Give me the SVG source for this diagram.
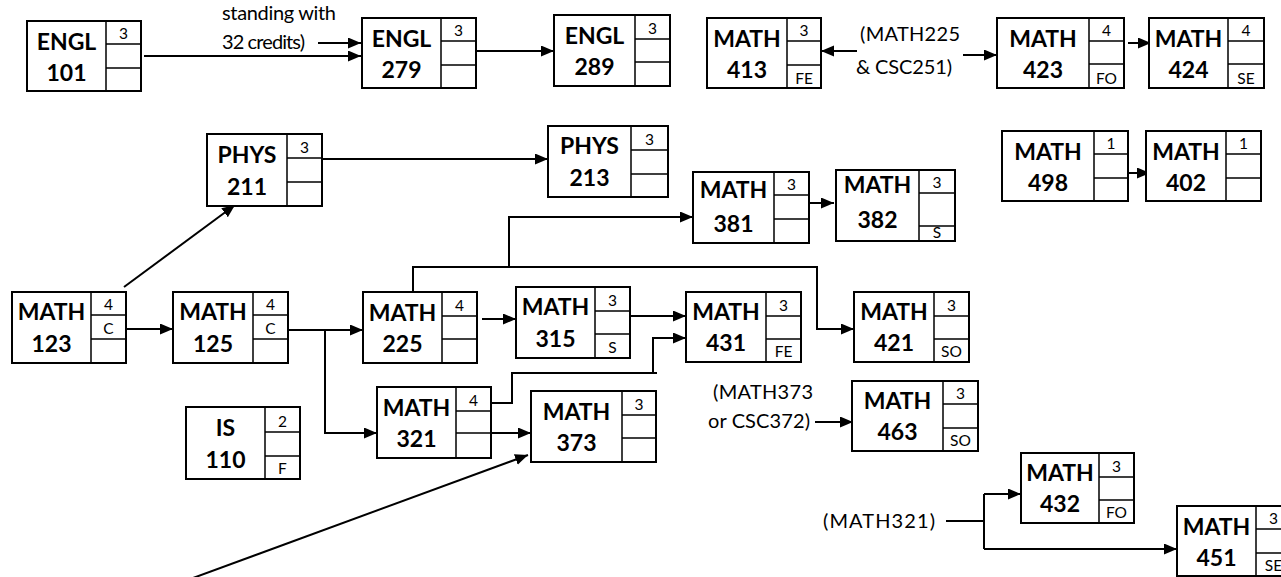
<svg xmlns="http://www.w3.org/2000/svg" width="1281" height="577" viewBox="0 0 1281 577">
<defs>
<marker id="ah" markerUnits="userSpaceOnUse" markerWidth="14" markerHeight="12" refX="13" refY="5.5" orient="auto">
<path d="M0,0 L13,5.5 L0,11 Z" fill="#000"/>
</marker>
<style>
.box{fill:#fff;stroke:#000;stroke-width:2}
.cell{stroke:#000;stroke-width:1.5;fill:none}
.lbl{font-family:Lato,"Liberation Sans",sans-serif;font-weight:bold;font-size:23px;text-anchor:middle;fill:#000}
.sm{font-family:Lato,"Liberation Sans",sans-serif;font-size:15.5px;text-anchor:middle;fill:#000}
.ann{font-family:Lato,"Liberation Sans",sans-serif;font-size:20px;fill:#000}
.con{fill:none;stroke:#000;stroke-width:2}
</style>
</defs>
<rect width="1281" height="577" fill="#fff"/>

<g id="connectors">
<path class="con" d="M144,56 H361" marker-end="url(#ah)"/>
<path class="con" d="M318,43 H361" marker-end="url(#ah)"/>
<path class="con" d="M476,51 H554" marker-end="url(#ah)"/>
<path class="con" d="M857,51 H821" marker-end="url(#ah)"/>
<path class="con" d="M963,55 H997" marker-end="url(#ah)"/>
<path class="con" d="M1128,43 H1151" marker-end="url(#ah)"/>
<path class="con" d="M1128,173 H1150" marker-end="url(#ah)"/>
<path class="con" d="M124,287 L235,205" marker-end="url(#ah)"/>
<path class="con" d="M319,159 H548" marker-end="url(#ah)"/>
<path class="con" d="M123,329 H173" marker-end="url(#ah)"/>
<path class="con" d="M288,330 H363" marker-end="url(#ah)"/>
<path class="con" d="M325,330 V433 H377" marker-end="url(#ah)"/>
<path class="con" d="M413,292 V267 H817 V329 H854" marker-end="url(#ah)"/>
<path class="con" d="M509,267 V217 H693" marker-end="url(#ah)"/>
<path class="con" d="M482,319 H516" marker-end="url(#ah)"/>
<path class="con" d="M630,316 H686" marker-end="url(#ah)"/>
<path class="con" d="M488,403 H512 V373 H657"/>
<path class="con" d="M653,373 V338 H686" marker-end="url(#ah)"/>
<path class="con" d="M491,433 H531" marker-end="url(#ah)"/>
<path class="con" d="M193,578 L528,455" marker-end="url(#ah)"/>
<path class="con" d="M803,203 H834" marker-end="url(#ah)"/>
<path class="con" d="M815,422 H853" marker-end="url(#ah)"/>
<path class="con" d="M946,521 H984"/>
<path class="con" d="M984,494 V549"/>
<path class="con" d="M984,494 H1021" marker-end="url(#ah)"/>
<path class="con" d="M984,549 H1177" marker-end="url(#ah)"/>
</g>

<g id="annotations">
<text class="ann" x="222" y="20" textLength="114" lengthAdjust="spacing">standing with</text>
<text class="ann" x="222" y="49" textLength="83" lengthAdjust="spacing">32 credits)</text>
<text class="ann" x="860" y="41" textLength="100" lengthAdjust="spacing">(MATH225</text>
<text class="ann" x="856" y="74" textLength="96" lengthAdjust="spacing">&amp; CSC251)</text>
<text class="ann" x="713" y="399" textLength="100" lengthAdjust="spacing">(MATH373</text>
<text class="ann" x="708" y="428" textLength="102" lengthAdjust="spacing">or CSC372)</text>
<text class="ann" x="823" y="528" textLength="112" lengthAdjust="spacing">(MATH321)</text>
</g>

<g id="engl101">
<rect class="box" x="27" y="21" width="114" height="70"/>
<path class="cell" d="M106,21 V91 M106,44 H141 M106,68 H141"/>
<text class="lbl" x="66.5" y="50">ENGL</text><text class="lbl" x="66.5" y="81">101</text>
<text class="sm" x="123.5" y="39">3</text>
</g>
<g id="engl279">
<rect class="box" x="362" y="18" width="114" height="70"/>
<path class="cell" d="M441,18 V88 M441,41 H476 M441,65 H476"/>
<text class="lbl" x="401.5" y="47">ENGL</text><text class="lbl" x="401.5" y="78">279</text>
<text class="sm" x="458.5" y="36">3</text>
</g>
<g id="engl289">
<rect class="box" x="554" y="15" width="116" height="71"/>
<path class="cell" d="M635,15 V86 M635,39 H670 M635,62 H670"/>
<text class="lbl" x="594.5" y="44">ENGL</text><text class="lbl" x="594.5" y="75">289</text>
<text class="sm" x="652.5" y="34">3</text>
</g>
<g id="math413">
<rect class="box" x="707" y="18" width="114" height="70"/>
<path class="cell" d="M787,18 V88 M787,41 H821 M787,65 H821"/>
<text class="lbl" x="747" y="47">MATH</text><text class="lbl" x="747" y="78">413</text>
<text class="sm" x="804" y="36">3</text><text class="sm" x="804" y="84">FE</text>
</g>
<g id="math423">
<rect class="box" x="997" y="18" width="127" height="70"/>
<path class="cell" d="M1089,18 V88 M1089,41 H1124 M1089,64 H1124"/>
<text class="lbl" x="1043" y="47">MATH</text><text class="lbl" x="1043" y="78">423</text>
<text class="sm" x="1106.5" y="36">4</text><text class="sm" x="1106.5" y="84">FO</text>
</g>
<g id="math424">
<rect class="box" x="1149" y="18" width="115" height="70"/>
<path class="cell" d="M1228,18 V88 M1228,41 H1264 M1228,64 H1264"/>
<text class="lbl" x="1188.5" y="47">MATH</text><text class="lbl" x="1188.5" y="78">424</text>
<text class="sm" x="1246" y="36">4</text><text class="sm" x="1246" y="84">SE</text>
</g>
<g id="math498">
<rect class="box" x="1002" y="131" width="126" height="70"/>
<path class="cell" d="M1094,131 V201 M1094,154 H1128 M1094,178 H1128"/>
<text class="lbl" x="1048" y="160">MATH</text><text class="lbl" x="1048" y="191">498</text>
<text class="sm" x="1111" y="149">1</text>
</g>
<g id="math402">
<rect class="box" x="1146" y="131" width="115" height="70"/>
<path class="cell" d="M1226,131 V201 M1226,154 H1261 M1226,178 H1261"/>
<text class="lbl" x="1186" y="160">MATH</text><text class="lbl" x="1186" y="191">402</text>
<text class="sm" x="1243.5" y="149">1</text>
</g>
<g id="phys211">
<rect class="box" x="207" y="134" width="115" height="72"/>
<path class="cell" d="M287,134 V206 M287,158 H322 M287,182 H322"/>
<text class="lbl" x="247" y="163">PHYS</text><text class="lbl" x="247" y="195">211</text>
<text class="sm" x="304.5" y="153">3</text>
</g>
<g id="phys213">
<rect class="box" x="548" y="126" width="120" height="71"/>
<path class="cell" d="M631,126 V197 M631,150 H668 M631,174 H668"/>
<text class="lbl" x="589.5" y="154">PHYS</text><text class="lbl" x="589.5" y="186">213</text>
<text class="sm" x="649.5" y="145">3</text>
</g>
<g id="math381">
<rect class="box" x="693" y="172" width="116" height="71"/>
<path class="cell" d="M774,172 V243 M774,195 H809 M774,219 H809"/>
<text class="lbl" x="733.5" y="198">MATH</text><text class="lbl" x="733.5" y="232">381</text>
<text class="sm" x="791.5" y="190">3</text>
</g>
<g id="math382">
<rect class="box" x="836" y="170" width="119" height="71"/>
<path class="cell" d="M919,170 V241 M919,193 H955 M919,226 H955"/>
<text class="lbl" x="877.5" y="193">MATH</text><text class="lbl" x="877.5" y="228">382</text>
<text class="sm" x="937" y="188">3</text><text class="sm" x="937" y="238">S</text>
</g>
<g id="math123">
<rect class="box" x="12" y="292" width="114" height="71"/>
<path class="cell" d="M91,292 V363 M91,315 H126 M91,339 H126"/>
<text class="lbl" x="51.5" y="320">MATH</text><text class="lbl" x="51.5" y="352">123</text>
<text class="sm" x="108.5" y="310">4</text><text class="sm" x="108.5" y="334">C</text>
</g>
<g id="math125">
<rect class="box" x="173" y="292" width="115" height="71"/>
<path class="cell" d="M253,292 V363 M253,315 H288 M253,339 H288"/>
<text class="lbl" x="213" y="320">MATH</text><text class="lbl" x="213" y="352">125</text>
<text class="sm" x="270.5" y="310">4</text><text class="sm" x="270.5" y="334">C</text>
</g>
<g id="math225">
<rect class="box" x="363" y="292" width="114" height="71"/>
<path class="cell" d="M442,292 V363 M442,316 H477 M442,339 H477"/>
<text class="lbl" x="402.5" y="321">MATH</text><text class="lbl" x="402.5" y="352">225</text>
<text class="sm" x="459.5" y="311">4</text>
</g>
<g id="math315">
<rect class="box" x="516" y="287" width="114" height="71"/>
<path class="cell" d="M595,287 V358 M595,311 H630 M595,334 H630"/>
<text class="lbl" x="555.5" y="315">MATH</text><text class="lbl" x="555.5" y="347">315</text>
<text class="sm" x="612.5" y="306">3</text><text class="sm" x="612.5" y="353">S</text>
</g>
<g id="math431">
<rect class="box" x="686" y="292" width="115" height="70"/>
<path class="cell" d="M766,292 V362 M766,316 H801 M766,339 H801"/>
<text class="lbl" x="726" y="320">MATH</text><text class="lbl" x="726" y="351">431</text>
<text class="sm" x="783.5" y="311">3</text><text class="sm" x="783.5" y="357">FE</text>
</g>
<g id="math421">
<rect class="box" x="854" y="292" width="115" height="70"/>
<path class="cell" d="M934,292 V362 M934,316 H969 M934,339 H969"/>
<text class="lbl" x="894" y="320">MATH</text><text class="lbl" x="894" y="351">421</text>
<text class="sm" x="951.5" y="311">3</text><text class="sm" x="951.5" y="357">SO</text>
</g>
<g id="is110">
<rect class="box" x="186" y="407" width="114" height="72"/>
<path class="cell" d="M265,407 V479 M265,432 H300 M265,456 H300"/>
<text class="lbl" x="225.5" y="436">IS</text><text class="lbl" x="225.5" y="468">110</text>
<text class="sm" x="282.5" y="427">2</text><text class="sm" x="282.5" y="474">F</text>
</g>
<g id="math321">
<rect class="box" x="377" y="387" width="114" height="71"/>
<path class="cell" d="M456,387 V458 M456,411 H491 M456,433 H491"/>
<text class="lbl" x="416.5" y="416">MATH</text><text class="lbl" x="416.5" y="447">321</text>
<text class="sm" x="473.5" y="406">4</text>
</g>
<g id="math373">
<rect class="box" x="531" y="391" width="125" height="71"/>
<path class="cell" d="M622,391 V462 M622,415 H656 M622,438 H656"/>
<text class="lbl" x="576.5" y="420">MATH</text><text class="lbl" x="576.5" y="451">373</text>
<text class="sm" x="639" y="410">3</text>
</g>
<g id="math463">
<rect class="box" x="852" y="381" width="126" height="70"/>
<path class="cell" d="M943,381 V451 M943,404 H978 M943,428 H978"/>
<text class="lbl" x="897.5" y="409">MATH</text><text class="lbl" x="897.5" y="440">463</text>
<text class="sm" x="960.5" y="399">3</text><text class="sm" x="960.5" y="446">SO</text>
</g>
<g id="math432">
<rect class="box" x="1021" y="453" width="113" height="70"/>
<path class="cell" d="M1099,453 V523 M1099,477 H1134 M1099,500 H1134"/>
<text class="lbl" x="1060" y="481">MATH</text><text class="lbl" x="1060" y="512">432</text>
<text class="sm" x="1116.5" y="472">3</text><text class="sm" x="1116.5" y="518">FO</text>
</g>
<g id="math451">
<rect class="box" x="1177" y="506" width="114" height="70"/>
<path class="cell" d="M1256,506 V576 M1256,529 H1291 M1256,553 H1291"/>
<text class="lbl" x="1216.5" y="535">MATH</text><text class="lbl" x="1216.5" y="566">451</text>
<text class="sm" x="1273.5" y="524">3</text><text class="sm" x="1273.5" y="571">SE</text>
</g>
</svg>
